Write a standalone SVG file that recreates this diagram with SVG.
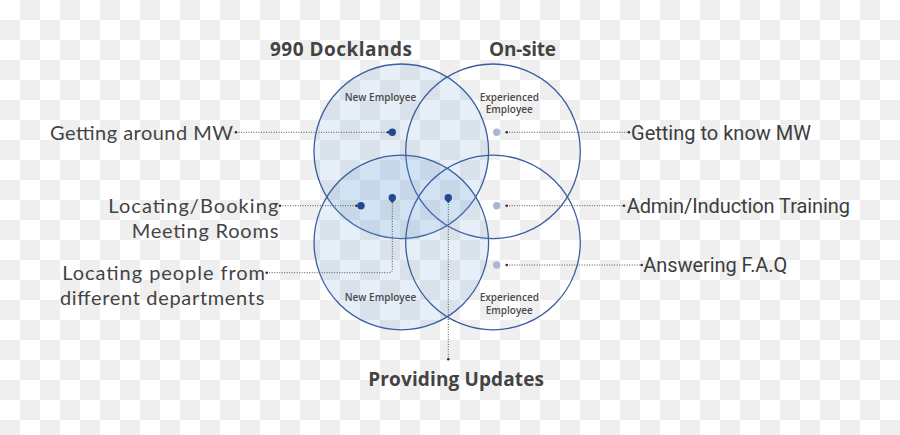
<svg xmlns="http://www.w3.org/2000/svg" width="900" height="435" viewBox="0 0 900 435">
  <defs>
    <pattern id="checker" width="40" height="40" patternUnits="userSpaceOnUse">
      <rect width="40" height="40" fill="#ffffff"/>
      <rect x="20" y="0" width="20" height="20" fill="#efefef"/>
      <rect x="0" y="20" width="20" height="20" fill="#efefef"/>
    </pattern>
    <marker id="tip" viewBox="0 0 4 4" refX="2" refY="2" markerWidth="4" markerHeight="4" markerUnits="userSpaceOnUse">
      <circle cx="2" cy="2" r="1.3" fill="#333"/>
    </marker>
    <style>
      .ring { stroke: #3a5ea0; stroke-width: 1.3; }
      .filled { fill: rgb(123,171,218); fill-opacity: 0.19; }
      .empty { fill: none; }
      .title { font-family: "Open Sans", "Lato", sans-serif; font-weight: 700; font-size: 19px; fill: #434343; }
      .small { font-family: "Open Sans", "Lato", sans-serif; font-weight: 600; font-size: 10px; fill: #4a4a4a; text-anchor: middle; }
      .lbl { font-family: Lato, "Open Sans", sans-serif; font-size: 20px; fill: #444; }
      .rlbl { font-family: Roboto, "Liberation Sans", sans-serif; font-size: 20px; fill: #3d3d3d; }
      .dark { fill: #1f4a91; }
      .light { fill: #a9b7d2; }
      .conn { fill: none; stroke: #555; stroke-width: 1; stroke-dasharray: 1 1.5; marker-start: url(#tip); marker-end: url(#tip); }
    </style>
  </defs>

  <rect width="900" height="435" fill="url(#checker)"/>

  <g id="circle-top-left"><circle class="ring filled" cx="401.3" cy="151.3" r="87.3"/></g>
  <g id="circle-top-right"><circle class="ring empty" cx="493" cy="151.3" r="87.3"/></g>
  <g id="circle-bottom-left"><circle class="ring filled" cx="401.3" cy="242.5" r="87.3"/></g>
  <g id="circle-bottom-right"><circle class="ring empty" cx="493" cy="242.5" r="87.3"/></g>

  <g id="connectors">
    <path class="conn" d="M236,132.3 H388"/>
    <path class="conn" d="M506.7,132.3 H629"/>
    <path class="conn" d="M280,205.7 H356.5"/>
    <path class="conn" d="M266.7,272.7 H389.3 Q392.3,272.7 392.3,269.7 V201.5"/>
    <path class="conn" d="M506.7,205.7 H624"/>
    <path class="conn" d="M506.7,265 H641.7"/>
    <path class="conn" d="M448.3,201.5 V359.3"/>
  </g>

  <g id="dots">
    <circle class="dark" cx="392.3" cy="132.3" r="3.7"/>
    <circle class="dark" cx="361" cy="205.7" r="3.7"/>
    <circle class="dark" cx="392.3" cy="197.7" r="3.7"/>
    <circle class="dark" cx="448.3" cy="197.7" r="3.7"/>
    <circle class="light" cx="496.7" cy="132.3" r="3.7"/>
    <circle class="light" cx="496.7" cy="205.7" r="3.7"/>
    <circle class="light" cx="496.7" cy="265" r="3.7"/>
  </g>

  <g id="title-docklands"><text class="title" x="270" y="56" textLength="142">990 Docklands</text></g>
  <g id="title-onsite"><text class="title" x="489" y="56" textLength="67">On-site</text></g>

  <g id="label-new-top"><text class="small" x="380.5" y="101">New Employee</text></g>
  <g id="label-exp-top"><text class="small" x="509.3" y="101">Experienced<tspan x="509.3" y="113.3">Employee</tspan></text></g>
  <g id="label-new-bottom"><text class="small" x="380.5" y="301">New Employee</text></g>
  <g id="label-exp-bottom"><text class="small" x="509.3" y="301">Experienced<tspan x="509.3" y="314.3">Employee</tspan></text></g>

  <g id="label-getting-around"><text class="lbl" x="50" y="140" textLength="183">Getting around MW</text></g>
  <g id="label-locating-booking">
    <text class="lbl"><tspan x="108.3" y="213" textLength="170">Locating/Booking</tspan><tspan x="131.7" y="238.3" textLength="146.6">Meeting Rooms</tspan></text>
  </g>
  <g id="label-locating-people">
    <text class="lbl"><tspan x="62.3" y="280.2" textLength="202.7">Locating people from</tspan><tspan x="60" y="304.5" textLength="204.3">different departments</tspan></text>
  </g>
  <g id="label-getting-to-know"><text class="rlbl" x="631" y="140" textLength="180">Getting to know MW</text></g>
  <g id="label-admin"><text class="rlbl" x="626.7" y="213.3" textLength="223.3">Admin/Induction Training</text></g>
  <g id="label-faq"><text class="rlbl" x="643.3" y="272.3" textLength="144">Answering F.A.Q</text></g>
  <g id="label-updates"><text class="title" x="368.3" y="386" textLength="175.7">Providing Updates</text></g>
</svg>
